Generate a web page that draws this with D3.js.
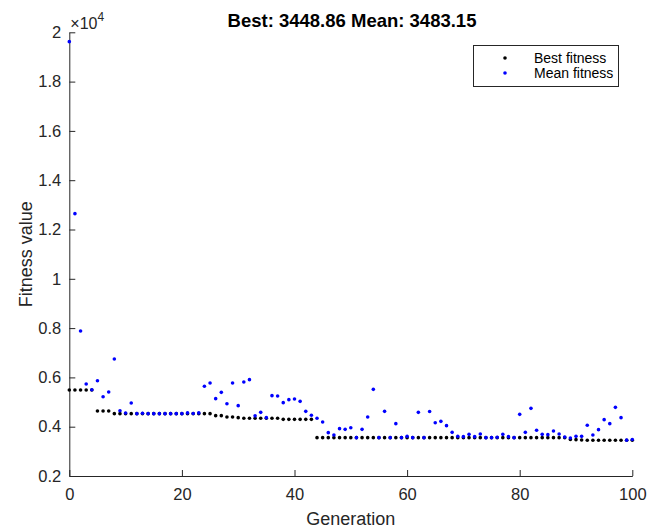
<!DOCTYPE html>
<meta charset="utf-8">
<title>GA fitness</title>
<script src="https://d3js.org/d3.v7.min.js"></script>
<style>
  body { margin: 0; background: #fff; }
  svg text { font-family: "Liberation Sans", Arial, Helvetica, sans-serif; }
</style>
<div id="chart"></div>
<script>
  // generation numbers 0..100
  const generations = d3.range(0, 101);

  // best fitness per generation
  const bestFitness = [
    5489, 5489, 5489, 5489, 5489, 4637, 4637, 4637, 4529, 4529,
    4529, 4529, 4529, 4529, 4529, 4529, 4529, 4529, 4529, 4529,
    4529, 4529, 4529, 4529, 4529, 4529, 4448, 4448, 4394, 4394,
    4367, 4340, 4340, 4340, 4340, 4340, 4340, 4340, 4299, 4299,
    4299, 4299, 4299, 4299, 3555, 3555, 3555, 3555, 3555, 3555,
    3555, 3555, 3555, 3555, 3555, 3555, 3555, 3555, 3555, 3555,
    3555, 3555, 3555, 3555, 3555, 3555, 3555, 3555, 3555, 3555,
    3555, 3555, 3555, 3555, 3555, 3555, 3555, 3555, 3555, 3555,
    3555, 3555, 3555, 3555, 3555, 3555, 3555, 3555, 3555, 3480,
    3475, 3460, 3448.86, 3448.86, 3448.86, 3448.86, 3448.86, 3448.86, 3448.86, 3448.86,
    3448.86
  ];

  // mean fitness per generation
  const meanFitness = [
    19620, 12642, 7882, 5732, 5502, 5867, 5218, 5408, 6746, 4650,
    4555, 4961, 4529, 4545, 4529, 4529, 4529, 4529, 4529, 4529,
    4529, 4560, 4535, 4560, 5638, 5773, 5137, 5394, 4934, 5773,
    4853, 5813, 5908, 4440, 4583, 4367, 5259, 5245, 4975, 5097,
    5124, 5029, 4623, 4462, 4340, 4191, 3758, 3664, 3920, 3893,
    3960, 3555, 3893, 4394, 5516, 3555, 4623, 3555, 4123, 3555,
    3609, 3555, 4583, 3555, 4615, 4160, 4218, 4042, 3771, 3609,
    3596, 3690, 3596, 3704, 3555, 3555, 3569, 3690, 3596, 3555,
    4502, 3771, 4745, 3853, 3690, 3677, 3825, 3704, 3582, 3541,
    3609, 3609, 4056, 3664, 3880, 4285, 4123, 4786, 4367, 3455,
    3483.15
  ];

  const yTicks = [0.2, 0.4, 0.6, 0.8, 1, 1.2, 1.4, 1.6, 1.8, 2];
  const xTicks = [0, 20, 40, 60, 80, 100];

  const width = 660, height = 529;
  const margin = { top: 32.3, right: 28, bottom: 53, left: 69.3 };
  const innerW = 632.3 - margin.left;
  const innerH = 476 - margin.top;

  const svg = d3.select("#chart")
    .append("svg")
    .attr("width", width)
    .attr("height", height);

  const g = svg.append("g")
    .attr("transform", `translate(${margin.left},${margin.top})`);

  const x = d3.scaleLinear().domain([0, 100]).range([0, innerW]);
  const y = d3.scaleLinear().domain([0.2, 2]).range([innerH, 0]);

  const axisColor = "#262626";

  const xAxis = g.append("g")
    .attr("transform", `translate(0,${innerH})`)
    .call(d3.axisBottom(x).tickValues(xTicks).tickSize(-6).tickPadding(12).tickSizeOuter(0));

  const yAxis = g.append("g")
    .call(d3.axisLeft(y).tickValues(yTicks).tickSize(-6).tickPadding(8).tickSizeOuter(0)
      .tickFormat(d3.format("")));

  [xAxis, yAxis].forEach(a => {
    a.select(".domain").attr("stroke", axisColor);
    a.selectAll(".tick line").attr("stroke", axisColor);
    a.selectAll(".tick text")
      .attr("fill", axisColor)
      .style("font-size", "16.5px");
  });

  // exponent label
  const expo = g.append("text")
    .attr("x", 1)
    .attr("y", -3.5)
    .attr("fill", axisColor)
    .style("font-size", "16px");
  expo.append("tspan").text("\u00d710");
  expo.append("tspan").attr("dy", -8).style("font-size", "12px").text("4");

  // marks
  const best = generations.map((gen, i) => ({ gen, v: bestFitness[i] / 1e4 }));
  const mean = generations.map((gen, i) => ({ gen, v: meanFitness[i] / 1e4 }));

  g.selectAll(".best")
    .data(best)
    .join("circle")
    .attr("class", "best")
    .attr("cx", d => x(d.gen))
    .attr("cy", d => y(d.v))
    .attr("r", 1.8)
    .attr("fill", "#000");

  g.selectAll(".mean")
    .data(mean)
    .join("circle")
    .attr("class", "mean")
    .attr("cx", d => x(d.gen))
    .attr("cy", d => y(d.v))
    .attr("r", 1.8)
    .attr("fill", "#0000ff");

  // title
  svg.append("text")
    .attr("x", 352)
    .attr("y", 27)
    .attr("text-anchor", "middle")
    .style("font-size", "18.5px")
    .style("font-weight", "bold")
    .attr("fill", "#000")
    .text(`Best: ${bestFitness[100].toFixed(2)} Mean: ${meanFitness[100].toFixed(2)}`);

  // axis labels
  svg.append("text")
    .attr("x", margin.left + innerW / 2)
    .attr("y", 525)
    .attr("text-anchor", "middle")
    .style("font-size", "18px")
    .attr("fill", axisColor)
    .text("Generation");

  svg.append("text")
    .attr("transform", `translate(32,${margin.top + innerH / 2}) rotate(-90)`)
    .attr("text-anchor", "middle")
    .style("font-size", "18px")
    .attr("fill", axisColor)
    .text("Fitness value");

  // legend
  const legend = svg.append("g");
  legend.append("rect")
    .attr("x", 473.5).attr("y", 45.5)
    .attr("width", 145).attr("height", 41)
    .attr("fill", "#fff")
    .attr("stroke", axisColor)
    .attr("stroke-width", 1);
  const items = [
    { label: "Best fitness", color: "#000" },
    { label: "Mean fitness", color: "#0000ff" }
  ];
  items.forEach((it, i) => {
    const yy = 58 + i * 15;
    legend.append("circle").attr("cx", 505).attr("cy", yy).attr("r", 1.8).attr("fill", it.color);
    legend.append("text")
      .attr("x", 534).attr("y", yy + 5)
      .style("font-size", "14px")
      .attr("fill", "#000")
      .text(it.label);
  });
</script>
